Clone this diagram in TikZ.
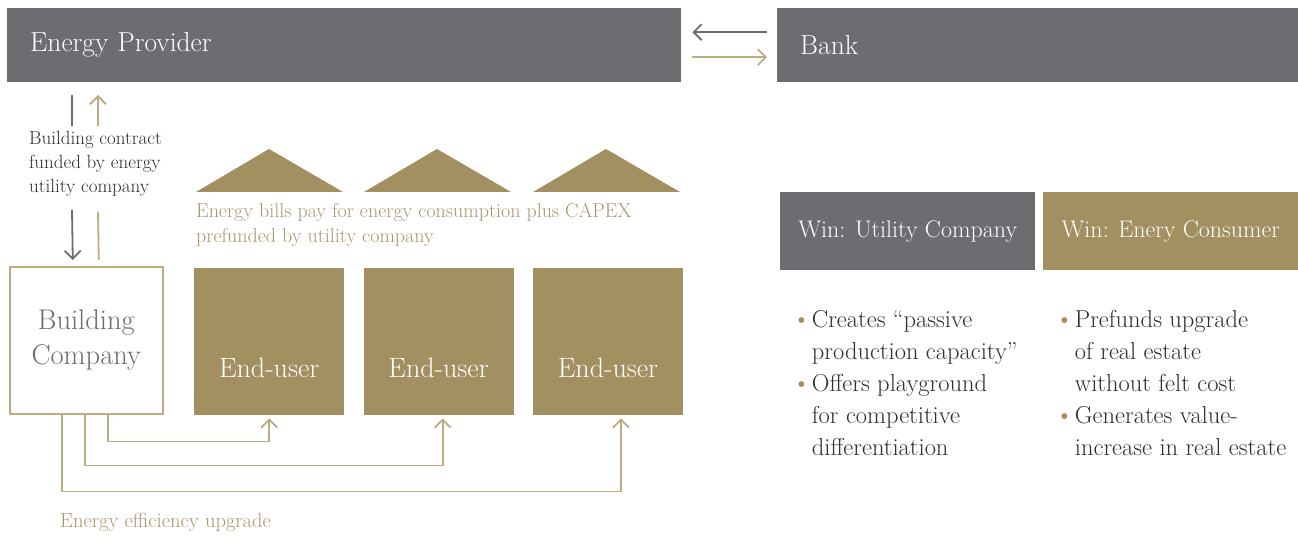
\documentclass[tikz,border=0pt]{standalone}
\usepackage{xcolor}
\usetikzlibrary{positioning,arrows.meta}

\definecolor{slate}{HTML}{6C6C71}
\definecolor{gold}{HTML}{A39060}
\definecolor{goldline}{HTML}{BEAC80}
\definecolor{goldtext}{HTML}{A89570}
\definecolor{ink}{HTML}{2E2E2E}

\newcommand{\bul}{{\color{gold}\fontsize{26}{26}\selectfont\textbullet}}

\tikzset{
  bar/.style={fill=slate, text=white, anchor=north west, minimum height=74pt,
    inner xsep=23pt, inner ysep=0pt, align=left, font=\fontsize{27.5}{30}\selectfont},
  winbox/.style={anchor=north west, minimum width=255pt, minimum height=78pt,
    inner sep=0pt, text=white, font=\fontsize{24}{28}\selectfont},
  enduser/.style={fill=gold, minimum width=150pt, minimum height=147pt, inner sep=0pt},
  usertext/.style={text=white, inner sep=0pt, font=\fontsize{28}{30}\selectfont},
  note/.style={anchor=north west, align=left, inner sep=0pt},
  tip/.style={-{Straight Barb[length=8pt,width=16pt,line width=1.8pt]}},
  slateline/.style={draw=slate, line width=1.8pt},
  goldarrow/.style={draw=goldline, line width=1.8pt},
}

\begin{document}
\begin{tikzpicture}[x=1pt,y=-1pt]
  \useasboundingbox (0,0) rectangle (1298,537);

  % top row
  \node [bar, text width=628pt] at (7,8) (prov) {Energy Provider};
  \node [bar, text width=475pt] at (777,8) (bank) {Bank};

  \draw [slateline, tip] ([xshift=-10pt,yshift=13pt]bank.west) -- ([xshift=11pt,yshift=13pt]prov.east);
  \draw [goldarrow, tip] ([xshift=11pt,yshift=-12pt]prov.east) -- ([xshift=-10pt,yshift=-12pt]bank.west);

  % contract between provider and builder
  \node [note, text=ink, font=\fontsize{19}{24}\selectfont] at (29,131) (contract)
    {Building contract\\funded by energy\\utility company};

  \node [draw=goldline, line width=1.6pt, fill=white, anchor=north west,
    minimum width=153pt, minimum height=147pt, text=slate, align=center,
    font=\fontsize{28.5}{35}\selectfont] at (9,266) (bc) {Building\\Company};

  \coordinate (dnA) at (72,95);
  \coordinate (dnB) at (72,126);
  \coordinate (dnC) at (72,210);
  \coordinate (upA) at (98,126);
  \coordinate (upB) at (98,95);
  \coordinate (upC) at (98,212);

  \draw [slateline] (dnA) -- (dnB);
  \draw [slateline, tip] (dnC) -- ([xshift=-13.5pt,yshift=6pt]bc.north);
  \draw [goldarrow] ([xshift=12.5pt,yshift=6pt]bc.north) -- (upC);
  \draw [goldarrow, tip] (upA) -- (upB);

  % end users
  \node [enduser, anchor=north west] at (194,268) (eu1) {};
  \node [enduser, right=19pt of eu1] (eu2) {};
  \node [enduser, right=19pt of eu2] (eu3) {};

  \node [usertext, above=37pt of eu1.south] {End-user};
  \node [usertext, above=37pt of eu2.south] {End-user};
  \node [usertext, above=37pt of eu3.south] {End-user};

  % roofs
  \foreach \x in {196,364,533}
    \fill [gold] (\x,192) -- (\x+73,149) -- (\x+147,192) -- cycle;

  \node [note, text=goldtext, font=\fontsize{20}{25}\selectfont] at (196,203) (bills)
    {Energy bills pay for energy consumption plus CAPEX\\prefunded by utility company};

  % upgrade lines
  \draw [goldarrow, tip] ([xshift=21.5pt]bc.south) |- ([yshift=-26pt]eu1.south) -- ([yshift=-3pt]eu1.south);
  \draw [goldarrow, tip] ([xshift=-1.5pt]bc.south) |- ([xshift=4pt,yshift=-50pt]eu2.south) -- ([xshift=4pt,yshift=-3pt]eu2.south);
  \draw [goldarrow, tip] ([xshift=-24.5pt]bc.south) |- ([xshift=13pt,yshift=-76pt]eu3.south) -- ([xshift=13pt,yshift=-3pt]eu3.south);

  \node [anchor=west, inner sep=0pt, text=goldtext, font=\fontsize{20.5}{22}\selectfont] at (60,522) (upgrade)
    {Energy efficiency upgrade};

  % wins
  \node [winbox, fill=slate] at (780,192) (winutil) {Win: Utility Company};
  \node [winbox, fill=gold] at (1043,192) (wincons) {Win: Enery Consumer};

  \begin{scope}[every node/.style={note, text=ink, font=\fontsize{24.5}{32}\selectfont}]
    \node at (792,305) (ptsutil) {\begin{tabular}{@{}l@{\hspace{1pt}}l@{}}
      \bul & Creates ``passive\\
           & production capacity''\\
      \bul & Offers playground\\
           & for competitive\\
           & differentiation
    \end{tabular}};
    \node at (1055,305) (ptscons) {\begin{tabular}{@{}l@{\hspace{1pt}}l@{}}
      \bul & Prefunds upgrade\\
           & of real estate\\
           & without felt cost\\
      \bul & Generates value-\\
           & increase in real estate
    \end{tabular}};
  \end{scope}
\end{tikzpicture}
\end{document}
